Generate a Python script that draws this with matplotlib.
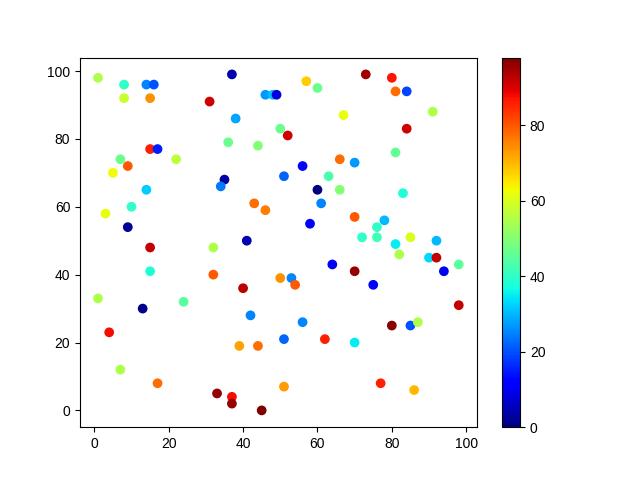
import matplotlib
matplotlib.use("Agg")
from matplotlib import pyplot as plt

plt.rcParams['font.family'] = ['Liberation Sans', 'DejaVu Sans']

# point positions and colour values
x = [1, 8, 14, 16, 8, 15, 37, 31, 46, 48, 49, 38, 50, 36, 44, 15, 17, 7, 22, 9,
     5, 14, 35, 34, 10, 3, 9, 43, 46, 51,
     73, 80, 57, 60, 81, 84, 67, 91, 52, 84, 81, 66, 70, 56, 63, 60, 66, 83, 61, 70,
     78, 58, 76,
     72, 76, 81, 85, 92, 82, 90, 92, 98, 94, 64, 70, 50, 53, 54, 75, 98, 56, 80, 85,
     87, 51, 62, 70, 51, 77, 86,
     15, 32, 41, 15, 32, 40, 1, 24, 13, 42, 4, 39, 44, 7, 17, 33, 37, 37, 45]
y = [98, 96, 96, 96, 92, 92, 99, 91, 93, 93, 93, 86, 83, 79, 78, 77, 77, 74, 74, 72,
     70, 65, 68, 66, 60, 58, 54, 61, 59, 69,
     99, 98, 97, 95, 94, 94, 87, 88, 81, 83, 76, 74, 73, 72, 69, 65, 65, 64, 61, 57,
     56, 55, 54,
     51, 51, 49, 51, 50, 46, 45, 45, 43, 41, 43, 41, 39, 39, 37, 37, 31, 26, 25, 25,
     26, 21, 21, 20, 7, 8, 6,
     48, 48, 50, 41, 40, 36, 33, 32, 30, 28, 23, 19, 19, 12, 8, 5, 4, 2, 0]
c = [55, 40, 25, 20, 58, 74, 4, 91, 27, 31, 8, 28, 47, 47, 50, 86, 15, 47, 57, 80,
     63, 32, 3, 24, 40, 62, 2, 78, 76, 22,
     95, 87, 68, 47, 78, 19, 62, 55, 91, 91, 46, 78, 27, 13, 43, 0, 50, 38, 25, 80,
     30, 12, 40,
     40, 42, 35, 60, 30, 55, 33, 92, 45, 10, 10, 96, 74, 25, 80, 12, 92, 25, 97, 20,
     55, 22, 86, 35, 73, 86, 70,
     92, 55, 4, 38, 80, 93, 55, 45, 1, 25, 88, 72, 78, 55, 78, 96, 88, 96, 98]

fig, ax = plt.subplots(figsize=(6.4, 4.8), dpi=100)
sc = ax.scatter(x, y, c=c, cmap='jet')
fig.colorbar(sc)

plt.savefig("out.png")
plt.close()
